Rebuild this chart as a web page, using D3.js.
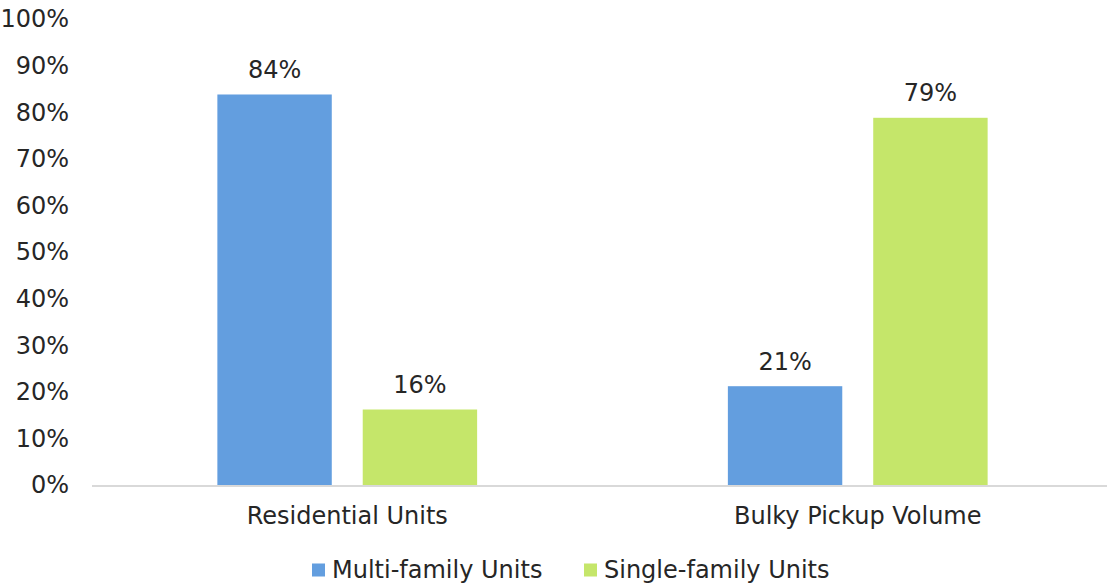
<!DOCTYPE html>
<html>
<head>
<meta charset="utf-8">
<script src="https://cdn.jsdelivr.net/npm/d3@7"></script>
<style>
  body { margin: 0; background: #fff; }
  text { font-family: "DejaVu Sans", sans-serif; fill: #262626; }
</style>
</head>
<body>
<div id="chart"></div>
<script>
// data
var categories = ["Residential Units", "Bulky Pickup Volume"];
var seriesNames = ["Multi-family Units", "Single-family Units"];
var multiFamily = [83.8, 21.2];
var singleFamily = [16.2, 78.8];
var yTicks = [0, 10, 20, 30, 40, 50, 60, 70, 80, 90, 100];
var colors = ["#639edf", "#c5e66a"];

var w = 1107, h = 585;
var plotLeft = 92, plotRight = 1113, plotTop = 19, plotBottom = 485;
var fs = "24px";

var svg = d3.select("#chart").append("svg")
    .attr("width", w)
    .attr("height", h);

var x0 = d3.scaleBand().domain(categories).range([plotLeft, plotRight]).padding(0);
var x1 = d3.scaleBand().domain(seriesNames).range([0, x0.bandwidth()])
    .paddingInner(0.213).paddingOuter(0.8625);
var y = d3.scaleLinear().domain([0, 100]).range([plotBottom, plotTop]);

var rows = categories.map(function (c, i) {
    return { cat: c, vals: [multiFamily[i], singleFamily[i]] };
});

// y labels (no axis line)
svg.selectAll(".ytick")
   .data(yTicks)
   .enter()
   .append("text")
   .attr("class", "ytick")
   .attr("x", 69)
   .attr("y", function (d) { return y(d); })
   .attr("dy", "0.35em")
   .attr("text-anchor", "end")
   .style("font-size", fs)
   .text(function (d) { return d + "%"; });

// bars
var groups = svg.selectAll(".grp")
   .data(rows)
   .enter()
   .append("g")
   .attr("class", "grp")
   .attr("transform", function (d) { return "translate(" + x0(d.cat) + ",0)"; });

groups.selectAll("rect")
   .data(function (d) { return d.vals.map(function (v, i) { return { s: seriesNames[i], v: v, i: i }; }); })
   .enter()
   .append("rect")
   .attr("x", function (d) { return x1(d.s); })
   .attr("y", function (d) { return y(d.v); })
   .attr("width", x1.bandwidth())
   .attr("height", function (d) { return y(0) - y(d.v); })
   .attr("fill", function (d) { return colors[d.i]; });

groups.selectAll(".lbl")
   .data(function (d) { return d.vals.map(function (v, i) { return { s: seriesNames[i], v: v }; }); })
   .enter()
   .append("text")
   .attr("class", "lbl")
   .attr("x", function (d) { return x1(d.s) + x1.bandwidth() / 2; })
   .attr("y", function (d) { return y(d.v) - 25; })
   .attr("dy", "0.35em")
   .attr("text-anchor", "middle")
   .style("font-size", fs)
   .text(function (d) { return Math.round(d.v) + "%"; });

// x axis line
svg.append("line")
   .attr("x1", plotLeft).attr("x2", w)
   .attr("y1", y(0) + 1).attr("y2", y(0) + 1)
   .attr("stroke", "#d9d9d9")
   .attr("stroke-width", 2);

// category labels
svg.selectAll(".xlbl")
   .data(categories)
   .enter()
   .append("text")
   .attr("class", "xlbl")
   .attr("x", function (d) { return x0(d) + x0.bandwidth() / 2; })
   .attr("y", 516)
   .attr("dy", "0.35em")
   .attr("text-anchor", "middle")
   .style("font-size", fs)
   .text(function (d) { return d; });

// legend
var legendX = [312, 584];
var leg = svg.selectAll(".leg")
   .data(seriesNames)
   .enter()
   .append("g")
   .attr("class", "leg")
   .attr("transform", function (d, i) { return "translate(" + legendX[i] + ",570)"; });

leg.append("rect")
   .attr("x", 0).attr("y", -6.5)
   .attr("width", 13).attr("height", 13)
   .attr("fill", function (d, i) { return colors[i]; });

leg.append("text")
   .attr("x", 20)
   .attr("dy", "0.35em")
   .style("font-size", fs)
   .text(function (d) { return d; });
</script>
</body>
</html>
